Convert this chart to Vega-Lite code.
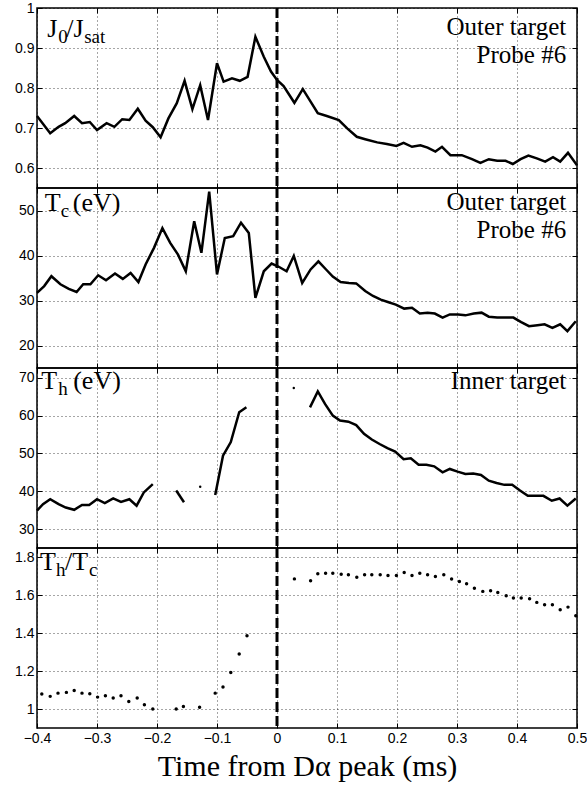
{
  "$schema": "https://vega.github.io/schema/vega-lite/v6.json",
  "padding": {"left": 13, "top": 0, "right": 0, "bottom": 0},
  "background": "white",
  "datasets": {
    "j": [
      {"t": -0.4, "v": 0.73}, {"t": -0.378, "v": 0.687}, {"t": -0.364, "v": 0.703}, {"t": -0.353, "v": 0.712}, {"t": -0.338, "v": 0.73},
      {"t": -0.325, "v": 0.712}, {"t": -0.312, "v": 0.715}, {"t": -0.3, "v": 0.695}, {"t": -0.284, "v": 0.712}, {"t": -0.271, "v": 0.703},
      {"t": -0.258, "v": 0.722}, {"t": -0.246, "v": 0.72}, {"t": -0.232, "v": 0.748}, {"t": -0.219, "v": 0.718}, {"t": -0.207, "v": 0.702},
      {"t": -0.194, "v": 0.677}, {"t": -0.181, "v": 0.724}, {"t": -0.167, "v": 0.762}, {"t": -0.154, "v": 0.818}, {"t": -0.141, "v": 0.747},
      {"t": -0.128, "v": 0.807}, {"t": -0.115, "v": 0.72}, {"t": -0.1, "v": 0.862}, {"t": -0.089, "v": 0.816}, {"t": -0.075, "v": 0.824},
      {"t": -0.062, "v": 0.818}, {"t": -0.049, "v": 0.828}, {"t": -0.036, "v": 0.928}, {"t": -0.022, "v": 0.878}, {"t": -0.01, "v": 0.841},
      {"t": 0.0, "v": 0.82}, {"t": 0.011, "v": 0.805}, {"t": 0.029, "v": 0.763}, {"t": 0.043, "v": 0.797}, {"t": 0.056, "v": 0.766},
      {"t": 0.068, "v": 0.737}, {"t": 0.083, "v": 0.73}, {"t": 0.103, "v": 0.72}, {"t": 0.117, "v": 0.699}, {"t": 0.133, "v": 0.678},
      {"t": 0.147, "v": 0.672}, {"t": 0.167, "v": 0.664}, {"t": 0.183, "v": 0.66}, {"t": 0.199, "v": 0.655}, {"t": 0.211, "v": 0.663},
      {"t": 0.225, "v": 0.653}, {"t": 0.239, "v": 0.657}, {"t": 0.251, "v": 0.651}, {"t": 0.264, "v": 0.641}, {"t": 0.275, "v": 0.653},
      {"t": 0.289, "v": 0.632}, {"t": 0.308, "v": 0.632}, {"t": 0.325, "v": 0.622}, {"t": 0.339, "v": 0.613}, {"t": 0.353, "v": 0.622},
      {"t": 0.367, "v": 0.618}, {"t": 0.381, "v": 0.618}, {"t": 0.393, "v": 0.61}, {"t": 0.406, "v": 0.622}, {"t": 0.419, "v": 0.631},
      {"t": 0.433, "v": 0.624}, {"t": 0.447, "v": 0.616}, {"t": 0.46, "v": 0.627}, {"t": 0.472, "v": 0.616}, {"t": 0.485, "v": 0.638},
      {"t": 0.5, "v": 0.607}
    ],
    "tc": [
      {"t": -0.4, "v": 31.7}, {"t": -0.388, "v": 33.2}, {"t": -0.376, "v": 35.4}, {"t": -0.361, "v": 33.6}, {"t": -0.347, "v": 32.6},
      {"t": -0.334, "v": 31.9}, {"t": -0.323, "v": 33.6}, {"t": -0.311, "v": 33.6}, {"t": -0.298, "v": 35.6}, {"t": -0.285, "v": 34.5},
      {"t": -0.27, "v": 36.0}, {"t": -0.257, "v": 34.8}, {"t": -0.244, "v": 36.1}, {"t": -0.231, "v": 34.1}, {"t": -0.219, "v": 38.0},
      {"t": -0.205, "v": 41.7}, {"t": -0.191, "v": 46.1}, {"t": -0.178, "v": 42.8}, {"t": -0.165, "v": 40.2}, {"t": -0.152, "v": 36.5},
      {"t": -0.138, "v": 47.6}, {"t": -0.126, "v": 40.6}, {"t": -0.113, "v": 54.2}, {"t": -0.1, "v": 35.8}, {"t": -0.087, "v": 43.9},
      {"t": -0.073, "v": 44.3}, {"t": -0.06, "v": 47.3}, {"t": -0.047, "v": 45.0}, {"t": -0.036, "v": 30.6}, {"t": -0.022, "v": 36.5},
      {"t": -0.009, "v": 38.2}, {"t": 0.003, "v": 37.5}, {"t": 0.016, "v": 36.5}, {"t": 0.028, "v": 39.9}, {"t": 0.042, "v": 33.9},
      {"t": 0.056, "v": 36.9}, {"t": 0.069, "v": 38.7}, {"t": 0.081, "v": 37.0}, {"t": 0.093, "v": 35.3}, {"t": 0.106, "v": 34.1},
      {"t": 0.12, "v": 33.9}, {"t": 0.132, "v": 33.8}, {"t": 0.147, "v": 32.1}, {"t": 0.16, "v": 31.0}, {"t": 0.173, "v": 30.2},
      {"t": 0.186, "v": 29.6}, {"t": 0.198, "v": 29.1}, {"t": 0.212, "v": 28.2}, {"t": 0.225, "v": 28.4}, {"t": 0.238, "v": 27.1},
      {"t": 0.251, "v": 27.3}, {"t": 0.263, "v": 27.1}, {"t": 0.276, "v": 26.2}, {"t": 0.288, "v": 26.9}, {"t": 0.302, "v": 26.9},
      {"t": 0.314, "v": 26.7}, {"t": 0.328, "v": 27.1}, {"t": 0.341, "v": 27.3}, {"t": 0.353, "v": 26.4}, {"t": 0.367, "v": 26.2},
      {"t": 0.38, "v": 26.2}, {"t": 0.394, "v": 26.2}, {"t": 0.407, "v": 25.2}, {"t": 0.42, "v": 24.3}, {"t": 0.434, "v": 24.5},
      {"t": 0.446, "v": 24.7}, {"t": 0.459, "v": 23.9}, {"t": 0.472, "v": 24.7}, {"t": 0.484, "v": 23.2}, {"t": 0.498, "v": 25.4}
    ],
    "th": [
      {"seg": "a", "t": -0.4, "v": 34.9}, {"seg": "a", "t": -0.39, "v": 36.6}, {"seg": "a", "t": -0.378, "v": 37.9}, {"seg": "a", "t": -0.364, "v": 36.6},
      {"seg": "a", "t": -0.352, "v": 35.7}, {"seg": "a", "t": -0.338, "v": 35.1}, {"seg": "a", "t": -0.325, "v": 36.4}, {"seg": "a", "t": -0.313, "v": 36.4},
      {"seg": "a", "t": -0.3, "v": 37.9}, {"seg": "a", "t": -0.287, "v": 36.9}, {"seg": "a", "t": -0.273, "v": 38.1}, {"seg": "a", "t": -0.26, "v": 37.2},
      {"seg": "a", "t": -0.246, "v": 37.9}, {"seg": "a", "t": -0.234, "v": 36.2}, {"seg": "a", "t": -0.222, "v": 39.7}, {"seg": "a", "t": -0.207, "v": 41.9},
      {"seg": "b", "t": -0.168, "v": 40.2}, {"seg": "b", "t": -0.155, "v": 37.1},
      {"seg": "c", "t": -0.128, "v": 41.2},
      {"seg": "d", "t": -0.103, "v": 39.0}, {"seg": "d", "t": -0.09, "v": 49.4}, {"seg": "d", "t": -0.077, "v": 53.0}, {"seg": "d", "t": -0.063, "v": 60.9},
      {"seg": "d", "t": -0.051, "v": 62.2},
      {"seg": "e", "t": 0.028, "v": 67.3},
      {"seg": "f", "t": 0.055, "v": 62.2}, {"seg": "f", "t": 0.068, "v": 66.4}, {"seg": "f", "t": 0.08, "v": 63.1}, {"seg": "f", "t": 0.093, "v": 60.0},
      {"seg": "f", "t": 0.105, "v": 58.7}, {"seg": "f", "t": 0.119, "v": 58.4}, {"seg": "f", "t": 0.132, "v": 57.5}, {"seg": "f", "t": 0.145, "v": 55.2},
      {"seg": "f", "t": 0.158, "v": 53.7}, {"seg": "f", "t": 0.171, "v": 52.5}, {"seg": "f", "t": 0.184, "v": 51.4}, {"seg": "f", "t": 0.197, "v": 50.5},
      {"seg": "f", "t": 0.211, "v": 48.5}, {"seg": "f", "t": 0.223, "v": 48.7}, {"seg": "f", "t": 0.236, "v": 47.0}, {"seg": "f", "t": 0.249, "v": 47.0},
      {"seg": "f", "t": 0.262, "v": 46.6}, {"seg": "f", "t": 0.276, "v": 45.0}, {"seg": "f", "t": 0.288, "v": 45.9}, {"seg": "f", "t": 0.301, "v": 45.2},
      {"seg": "f", "t": 0.314, "v": 44.6}, {"seg": "f", "t": 0.327, "v": 44.7}, {"seg": "f", "t": 0.34, "v": 44.3}, {"seg": "f", "t": 0.353, "v": 42.8},
      {"seg": "f", "t": 0.366, "v": 42.2}, {"seg": "f", "t": 0.379, "v": 41.7}, {"seg": "f", "t": 0.392, "v": 41.7}, {"seg": "f", "t": 0.405, "v": 40.2},
      {"seg": "f", "t": 0.418, "v": 38.8}, {"seg": "f", "t": 0.431, "v": 38.8}, {"seg": "f", "t": 0.444, "v": 38.8}, {"seg": "f", "t": 0.458, "v": 37.5},
      {"seg": "f", "t": 0.471, "v": 38.1}, {"seg": "f", "t": 0.484, "v": 36.2}, {"seg": "f", "t": 0.498, "v": 38.1}
    ],
    "ratio": [
      {"t": -0.392, "v": 1.079}, {"t": -0.378, "v": 1.067}, {"t": -0.365, "v": 1.084}, {"t": -0.351, "v": 1.088}, {"t": -0.338, "v": 1.098},
      {"t": -0.325, "v": 1.084}, {"t": -0.312, "v": 1.081}, {"t": -0.299, "v": 1.063}, {"t": -0.286, "v": 1.07}, {"t": -0.273, "v": 1.058},
      {"t": -0.26, "v": 1.07}, {"t": -0.247, "v": 1.04}, {"t": -0.233, "v": 1.058}, {"t": -0.221, "v": 1.023}, {"t": -0.207, "v": 1.0},
      {"t": -0.168, "v": 1.0}, {"t": -0.156, "v": 1.014}, {"t": -0.129, "v": 1.009}, {"t": -0.103, "v": 1.084}, {"t": -0.09, "v": 1.116},
      {"t": -0.077, "v": 1.193}, {"t": -0.063, "v": 1.29}, {"t": -0.05, "v": 1.387}, {"t": 0.029, "v": 1.687}, {"t": 0.056, "v": 1.677},
      {"t": 0.068, "v": 1.714}, {"t": 0.081, "v": 1.717}, {"t": 0.093, "v": 1.717}, {"t": 0.107, "v": 1.712}, {"t": 0.119, "v": 1.709},
      {"t": 0.133, "v": 1.696}, {"t": 0.146, "v": 1.709}, {"t": 0.158, "v": 1.709}, {"t": 0.172, "v": 1.709}, {"t": 0.185, "v": 1.705},
      {"t": 0.199, "v": 1.705}, {"t": 0.212, "v": 1.721}, {"t": 0.225, "v": 1.705}, {"t": 0.238, "v": 1.717}, {"t": 0.251, "v": 1.709},
      {"t": 0.264, "v": 1.7}, {"t": 0.278, "v": 1.709}, {"t": 0.291, "v": 1.686}, {"t": 0.304, "v": 1.673}, {"t": 0.316, "v": 1.661},
      {"t": 0.329, "v": 1.638}, {"t": 0.343, "v": 1.621}, {"t": 0.356, "v": 1.624}, {"t": 0.368, "v": 1.615}, {"t": 0.382, "v": 1.598},
      {"t": 0.394, "v": 1.586}, {"t": 0.407, "v": 1.586}, {"t": 0.421, "v": 1.582}, {"t": 0.433, "v": 1.563}, {"t": 0.446, "v": 1.55},
      {"t": 0.459, "v": 1.55}, {"t": 0.472, "v": 1.524}, {"t": 0.485, "v": 1.538}, {"t": 0.498, "v": 1.492}
    ]
  },
  "spacing": 0,
  "bounds": "flush",
  "vconcat": [
    {
      "width": 540, "height": 180,
      "resolve": {"axis": {"x": "independent", "y": "independent"}},
      "layer": [
        {"data": {"name": "j"}, "mark": {"type": "line", "color": "black", "strokeWidth": 2.5},
         "encoding": {
           "x": {"field": "t", "type": "quantitative", "scale": {"domain": [-0.4, 0.5], "nice": false, "zero": false},
                 "axis": {"values": [-0.4, -0.3, -0.2, -0.1, 0, 0.1, 0.2, 0.3, 0.4, 0.5], "labels": false, "title": null}},
           "y": {"field": "v", "type": "quantitative", "scale": {"domain": [0.55, 1.0], "nice": false, "zero": false},
                 "axis": {"values": [0.6, 0.7, 0.8, 0.9, 1.0], "format": "~r", "title": null}}}},
        {"data": {"values": [{}]}, "mark": {"type": "rule", "color": "black", "strokeWidth": 3, "strokeDash": [10, 4]},
         "encoding": {"x": {"datum": 0, "axis": {"orient": "top", "values": [-0.4, -0.3, -0.2, -0.1, 0, 0.1, 0.2, 0.3, 0.4, 0.5], "labels": false, "grid": false, "title": null}}}},
        {"data": {"values": [{}]}, "mark": {"type": "text"}, "encoding": {"x": {"datum": -0.383, "axis": null}, "y": {"datum": 0.928, "axis": {"orient": "right", "values": [0.6, 0.7, 0.8, 0.9, 1.0], "labels": false, "grid": false, "title": null}}, "text": {"value": "J"}}},
        {"data": {"values": [{}]}, "mark": {"type": "text", "fontSize": 19, "dx": 11, "dy": 6}, "encoding": {"x": {"datum": -0.383, "axis": null}, "y": {"datum": 0.928, "axis": null}, "text": {"value": "0"}}},
        {"data": {"values": [{}]}, "mark": {"type": "text", "dx": 19}, "encoding": {"x": {"datum": -0.383, "axis": null}, "y": {"datum": 0.928, "axis": null}, "text": {"value": "/J"}}},
        {"data": {"values": [{}]}, "mark": {"type": "text", "fontSize": 19, "dx": 37, "dy": 6}, "encoding": {"x": {"datum": -0.383, "axis": null}, "y": {"datum": 0.928, "axis": null}, "text": {"value": "sat"}}},
        {"data": {"values": [{}]}, "mark": {"type": "text", "align": "right", "fontSize": 25}, "encoding": {"x": {"datum": 0.482, "axis": null}, "y": {"datum": 0.932, "axis": null}, "text": {"value": "Outer target"}}},
        {"data": {"values": [{}]}, "mark": {"type": "text", "align": "right", "fontSize": 25}, "encoding": {"x": {"datum": 0.482, "axis": null}, "y": {"datum": 0.8625, "axis": null}, "text": {"value": "Probe #6"}}}
      ]
    },
    {
      "width": 540, "height": 180,
      "resolve": {"axis": {"x": "independent", "y": "independent"}},
      "layer": [
        {"data": {"name": "tc"}, "mark": {"type": "line", "color": "black", "strokeWidth": 2.5},
         "encoding": {
           "x": {"field": "t", "type": "quantitative", "scale": {"domain": [-0.4, 0.5], "nice": false, "zero": false},
                 "axis": {"values": [-0.4, -0.3, -0.2, -0.1, 0, 0.1, 0.2, 0.3, 0.4, 0.5], "labels": false, "title": null}},
           "y": {"field": "v", "type": "quantitative", "scale": {"domain": [15, 55], "nice": false, "zero": false},
                 "axis": {"values": [20, 30, 40, 50], "format": "~r", "title": null}}}},
        {"data": {"values": [{}]}, "mark": {"type": "rule", "color": "black", "strokeWidth": 3, "strokeDash": [10, 4]},
         "encoding": {"x": {"datum": 0, "axis": {"orient": "top", "values": [-0.4, -0.3, -0.2, -0.1, 0, 0.1, 0.2, 0.3, 0.4, 0.5], "labels": false, "grid": false, "title": null}}}},
        {"data": {"values": [{}]}, "mark": {"type": "text"}, "encoding": {"x": {"datum": -0.387, "axis": null}, "y": {"datum": 50, "axis": {"orient": "right", "values": [20, 30, 40, 50], "labels": false, "grid": false, "title": null}}, "text": {"value": "T"}}},
        {"data": {"values": [{}]}, "mark": {"type": "text", "fontSize": 19, "dx": 16, "dy": 6}, "encoding": {"x": {"datum": -0.387, "axis": null}, "y": {"datum": 50, "axis": null}, "text": {"value": "c"}}},
        {"data": {"values": [{}]}, "mark": {"type": "text", "dx": 28}, "encoding": {"x": {"datum": -0.387, "axis": null}, "y": {"datum": 50, "axis": null}, "text": {"value": "(eV)"}}},
        {"data": {"values": [{}]}, "mark": {"type": "text", "align": "right", "fontSize": 25}, "encoding": {"x": {"datum": 0.482, "axis": null}, "y": {"datum": 50.2, "axis": null}, "text": {"value": "Outer target"}}},
        {"data": {"values": [{}]}, "mark": {"type": "text", "align": "right", "fontSize": 25}, "encoding": {"x": {"datum": 0.482, "axis": null}, "y": {"datum": 43.8, "axis": null}, "text": {"value": "Probe #6"}}}
      ]
    },
    {
      "width": 540, "height": 180,
      "resolve": {"axis": {"x": "independent", "y": "independent"}},
      "layer": [
        {"data": {"name": "th"}, "mark": {"type": "line", "color": "black", "strokeWidth": 2.5},
         "encoding": {
           "x": {"field": "t", "type": "quantitative", "scale": {"domain": [-0.4, 0.5], "nice": false, "zero": false},
                 "axis": {"values": [-0.4, -0.3, -0.2, -0.1, 0, 0.1, 0.2, 0.3, 0.4, 0.5], "labels": false, "title": null}},
           "y": {"field": "v", "type": "quantitative", "scale": {"domain": [25, 72.6], "nice": false, "zero": false},
                 "axis": {"values": [30, 40, 50, 60, 70], "format": "~r", "title": null}},
           "detail": {"field": "seg"}}},
        {"data": {"name": "th"}, "transform": [{"filter": {"field": "seg", "oneOf": ["c", "e"]}}],
         "mark": {"type": "circle", "color": "black", "size": 6, "opacity": 1},
         "encoding": {"x": {"field": "t", "type": "quantitative", "axis": null}, "y": {"field": "v", "type": "quantitative", "axis": null}}},
        {"data": {"values": [{}]}, "mark": {"type": "rule", "color": "black", "strokeWidth": 3, "strokeDash": [10, 4]},
         "encoding": {"x": {"datum": 0, "axis": {"orient": "top", "values": [-0.4, -0.3, -0.2, -0.1, 0, 0.1, 0.2, 0.3, 0.4, 0.5], "labels": false, "grid": false, "title": null}}}},
        {"data": {"values": [{}]}, "mark": {"type": "text"}, "encoding": {"x": {"datum": -0.393, "axis": null}, "y": {"datum": 67.1, "axis": {"orient": "right", "values": [30, 40, 50, 60, 70], "labels": false, "grid": false, "title": null}}, "text": {"value": "T"}}},
        {"data": {"values": [{}]}, "mark": {"type": "text", "fontSize": 19, "dx": 17, "dy": 6}, "encoding": {"x": {"datum": -0.393, "axis": null}, "y": {"datum": 67.1, "axis": null}, "text": {"value": "h"}}},
        {"data": {"values": [{}]}, "mark": {"type": "text", "dx": 32}, "encoding": {"x": {"datum": -0.393, "axis": null}, "y": {"datum": 67.1, "axis": null}, "text": {"value": "(eV)"}}},
        {"data": {"values": [{}]}, "mark": {"type": "text", "align": "right", "fontSize": 25}, "encoding": {"x": {"datum": 0.482, "axis": null}, "y": {"datum": 67.1, "axis": null}, "text": {"value": "Inner target"}}}
      ]
    },
    {
      "width": 540, "height": 180,
      "resolve": {"axis": {"x": "independent", "y": "independent"}},
      "layer": [
        {"data": {"name": "ratio"}, "mark": {"type": "circle", "color": "black", "size": 12, "opacity": 1},
         "encoding": {
           "x": {"field": "t", "type": "quantitative", "scale": {"domain": [-0.4, 0.5], "nice": false, "zero": false},
                 "axis": {"values": [-0.4, -0.3, -0.2, -0.1, 0, 0.1, 0.2, 0.3, 0.4, 0.5], "format": "~r", "title": "Time from Dα peak (ms)", "titlePadding": 6}},
           "y": {"field": "v", "type": "quantitative", "scale": {"domain": [0.9, 1.85], "nice": false, "zero": false},
                 "axis": {"values": [1, 1.2, 1.4, 1.6, 1.8], "format": "~r", "title": null}}}},
        {"data": {"values": [{}]}, "mark": {"type": "rule", "color": "black", "strokeWidth": 3, "strokeDash": [10, 4]},
         "encoding": {"x": {"datum": 0, "axis": {"orient": "top", "values": [-0.4, -0.3, -0.2, -0.1, 0, 0.1, 0.2, 0.3, 0.4, 0.5], "labels": false, "grid": false, "title": null}}}},
        {"data": {"values": [{}]}, "mark": {"type": "text"}, "encoding": {"x": {"datum": -0.395, "axis": null}, "y": {"datum": 1.735, "axis": {"orient": "right", "values": [1, 1.2, 1.4, 1.6, 1.8], "labels": false, "grid": false, "title": null}}, "text": {"value": "T"}}},
        {"data": {"values": [{}]}, "mark": {"type": "text", "fontSize": 19, "dx": 16, "dy": 6}, "encoding": {"x": {"datum": -0.395, "axis": null}, "y": {"datum": 1.735, "axis": null}, "text": {"value": "h"}}},
        {"data": {"values": [{}]}, "mark": {"type": "text", "dx": 25}, "encoding": {"x": {"datum": -0.395, "axis": null}, "y": {"datum": 1.735, "axis": null}, "text": {"value": "/T"}}},
        {"data": {"values": [{}]}, "mark": {"type": "text", "fontSize": 19, "dx": 49, "dy": 6}, "encoding": {"x": {"datum": -0.395, "axis": null}, "y": {"datum": 1.735, "axis": null}, "text": {"value": "c"}}}
      ]
    }
  ],
  "config": {
    "view": {"stroke": "black", "strokeWidth": 1.5},
    "text": {"font": "Liberation Serif", "fontSize": 26, "color": "black", "align": "left", "baseline": "alphabetic"},
    "axis": {
      "grid": true, "gridColor": "black", "gridDash": [1, 3], "gridOpacity": 0.7, "gridWidth": 1,
      "tickSize": -5, "tickColor": "black", "tickWidth": 1, "domain": false,
      "labelFont": "Liberation Sans", "labelFontSize": 14, "labelColor": "black", "labelPadding": 8, "labelFlush": false,
      "titleFont": "Liberation Serif", "titleFontSize": 30, "titleFontWeight": "normal", "titleColor": "black"
    }
  }
}
